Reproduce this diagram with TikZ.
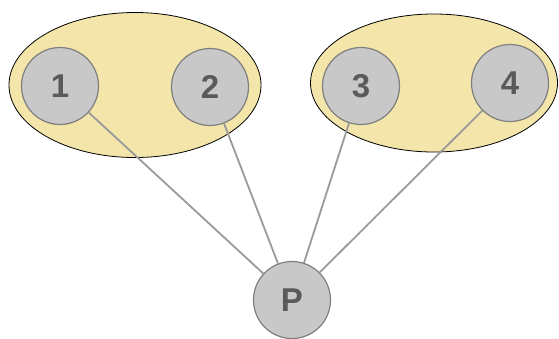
\documentclass[tikz,border=0pt]{standalone}
\usepackage{fontspec}
\setsansfont{Liberation Sans}
\usetikzlibrary{shapes.geometric}
\definecolor{groupfill}{HTML}{F4E6AA}
\definecolor{vertexfill}{HTML}{C8C8C8}
\definecolor{vertexline}{HTML}{7F7F7F}
\definecolor{labelgray}{HTML}{5A5A5A}
\definecolor{edgegray}{HTML}{9A9A9A}

\begin{document}
\begin{tikzpicture}[x=1pt,y=-1pt,
    group/.style={ellipse,draw=black,line width=0.8pt,fill=groupfill,inner sep=0pt},
    vertex/.style={circle,draw=vertexline,line width=1.2pt,fill=vertexfill,
        minimum size=77pt,inner sep=0pt,text=labelgray,
        font=\sffamily\bfseries\fontsize{33}{33}\selectfont}]
                \useasboundingbox (0,0) rectangle (559,338);
                \node[group,minimum width=252pt,minimum height=145pt] (g1) at (135,85) {};
                \node[group,minimum width=247pt,minimum height=138pt] (g2) at (434,83) {};
                \node[vertex] (a) at (60,86) {1};
                \node[vertex] (b) at (210,87) {2};
                \node[vertex] (c) at (361,86) {3};
                \node[vertex] (d) at (510,83) {4};
                \node[vertex] (p) at (292,300) {P};
                \path[draw=edgegray,line width=1.8pt]
                        (a) edge node {} (p)
                        (b) edge node {} (p)
                        (c) edge node {} (p)
                        (d) edge node {} (p);
            \end{tikzpicture}
\end{document}
